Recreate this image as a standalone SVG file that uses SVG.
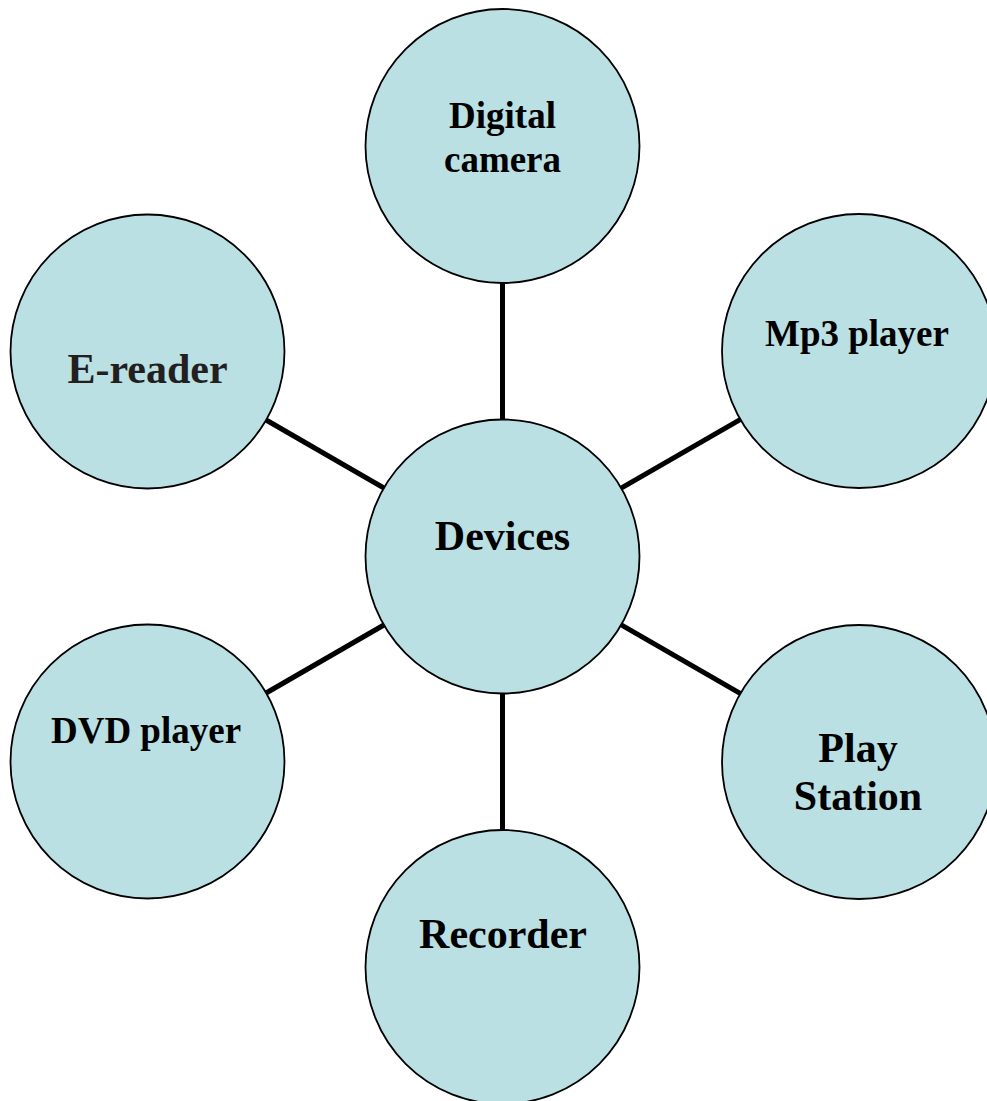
<svg xmlns="http://www.w3.org/2000/svg" width="987" height="1101" viewBox="0 0 987 1101">
<style>
.node{fill:#bae0e4;stroke:#000;stroke-width:1.8}
.edge{stroke:#000;stroke-width:5;fill:none}
.lbl{font-family:"Liberation Serif","Times New Roman",serif;font-weight:bold;fill:#000;text-anchor:middle}
</style>
<rect width="987" height="1101" fill="#fff"/>
<g id="connectors">
<line class="edge" x1="502.5" y1="556.5" x2="502.5" y2="146"/>
<line class="edge" x1="502.5" y1="556.5" x2="859" y2="351"/>
<line class="edge" x1="502.5" y1="556.5" x2="147.5" y2="351.5"/>
<line class="edge" x1="502.5" y1="556.5" x2="147.5" y2="761.5"/>
<line class="edge" x1="502.5" y1="556.5" x2="859" y2="762"/>
<line class="edge" x1="502.5" y1="556.5" x2="502.5" y2="967"/>
</g>
<g id="devices">
<circle class="node" cx="502.5" cy="556.5" r="137"/>
<text class="lbl" x="502.5" y="550" font-size="42">Devices</text>
</g>
<g id="digital-camera">
<circle class="node" cx="502.5" cy="146" r="137"/>
<text class="lbl" x="502.5" y="128" font-size="37">Digital</text>
<text class="lbl" x="502.5" y="172" font-size="37">camera</text>
</g>
<g id="mp3-player">
<circle class="node" cx="859" cy="351" r="137"/>
<text class="lbl" x="857" y="346" font-size="37">Mp3 player</text>
</g>
<g id="e-reader">
<circle class="node" cx="147.5" cy="351.5" r="137"/>
<text class="lbl" x="147.5" y="383" font-size="42" fill="#231f20" style="fill:#231f20">E-reader</text>
</g>
<g id="dvd-player">
<circle class="node" cx="147.5" cy="761.5" r="137"/>
<text class="lbl" x="146" y="743" font-size="37">DVD player</text>
</g>
<g id="play-station">
<circle class="node" cx="859" cy="762" r="137"/>
<text class="lbl" x="858" y="762" font-size="42">Play</text>
<text class="lbl" x="858" y="810" font-size="42">Station</text>
</g>
<g id="recorder">
<circle class="node" cx="502.5" cy="967" r="137"/>
<text class="lbl" x="503" y="948" font-size="42">Recorder</text>
</g>
</svg>
